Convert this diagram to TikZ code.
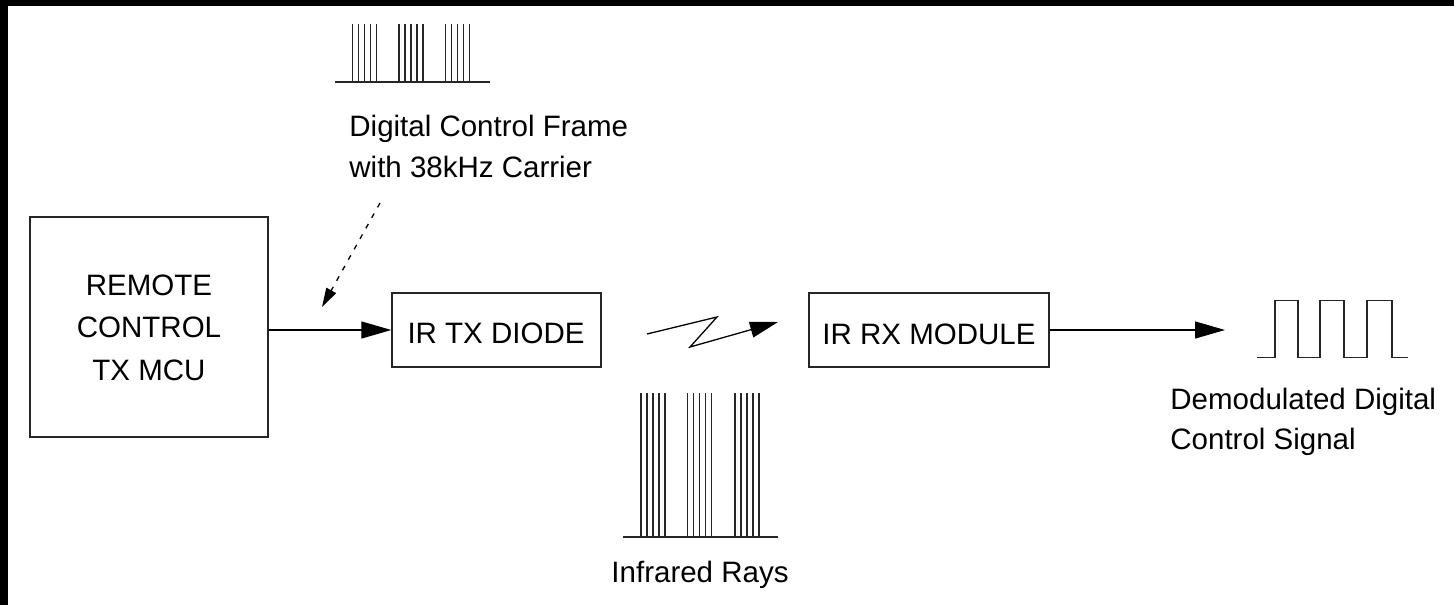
\documentclass[tikz,border=0pt]{standalone}
\usepackage{fontspec}
\setmainfont{Liberation Sans}
\usetikzlibrary{arrows.meta}
\begin{document}
\begin{tikzpicture}[x=0.5pt,y=-0.5pt,
  every node/.style={font=\fontsize{14.75}{20}\selectfont, inner sep=0pt},
  blockbox/.style={draw=black!85, line width=0.7pt},
  lbl/.style={anchor=base},
  lblw/.style={anchor=base west},
  conn/.style={line width=0.65pt, -{Triangle[length=15pt,width=8.5pt]}},
  pulse/.style={line width=0.6pt, black!85}]
\useasboundingbox (0,0) rectangle (1454,605);
\fill[white] (0,0) rectangle (1454,605);
% black frame bands of the screenshot
\fill[black] (0,0) rectangle (1454,6);
\fill[black] (0,0) rectangle (8,605);

% blocks
\node[blockbox, minimum width=119pt, minimum height=110pt] (mcu) at (149,327) {};
\node[blockbox, minimum width=104.5pt, minimum height=37pt] (tx) at (496.5,330) {};
\node[blockbox, minimum width=120pt, minimum height=37pt] (rx) at (929,330) {};

% block texts
\node[lbl] (m1) at (149,295) {REMOTE};
\node[lbl] (m2) at (149,337) {CONTROL};
\node[lbl] (m3) at (149,380) {TX MCU};
\node[lbl] (txt) at (496,343) {IR TX DIODE};
\node[lbl] (rxt) at (929,344) {IR RX MODULE};

% labels
\node[lblw] (f1) at (349,136) {Digital Control Frame};
\node[lblw] (f2) at (349,177) {with 38kHz Carrier};
\node[lbl] (ir) at (700,582) {Infrared Rays};
\node[lblw] (d1) at (1170,409) {Demodulated Digital};
\node[lblw] (d2) at (1170,449) {Control Signal};

% connectors
\draw[conn] (mcu.east |- tx.west) -- (tx.west);
\coordinate (outend) at (1225,330);
\draw[conn] (rx.east) -- (outend);

% dotted arrow
\coordinate (dotA) at (380,203);
\coordinate (dotB) at (322,307);
\draw[line width=0.65pt, dash pattern=on 2.5pt off 3.5pt, -{Triangle[length=9.5pt,width=5.5pt]}] (dotA) -- (dotB);

% zigzag infrared arrow
\coordinate (z0) at (647,334);
\coordinate (z1) at (717,317);
\coordinate (z2) at (690,347);
\coordinate (z3) at (778,322);
\draw[line width=0.65pt, line join=miter, -{Triangle[length=14pt,width=8pt]}] (z0) -- (z1) -- (z2) -- (z3);

% top pulse train
\draw[pulse] (335,82) -- (490,82);
\foreach \g in {352.7,399,445.7}{
  \foreach \o in {0,6,12,18,24}{
    \draw[pulse] (\g+\o,82) -- (\g+\o,24);
  }
}

% infrared rays pulse train
\draw[pulse] (623,537) -- (778,537);
\foreach \g in {641,687.3,735}{
  \foreach \o in {0,6,12,18,24}{
    \draw[pulse] (\g+\o,537) -- (\g+\o,393);
  }
}

% demodulated square wave
\draw[line width=0.7pt, black!85, line join=miter]
  (1257,357.7) -- (1275,357.7) -- (1275,300.7) -- (1298,300.7) -- (1298,357.7)
  -- (1320,357.7) -- (1320,300.7) -- (1344,300.7) -- (1344,357.7)
  -- (1367,357.7) -- (1367,300.7) -- (1392,300.7) -- (1392,357.7) -- (1408,357.7);
\end{tikzpicture}
\end{document}
